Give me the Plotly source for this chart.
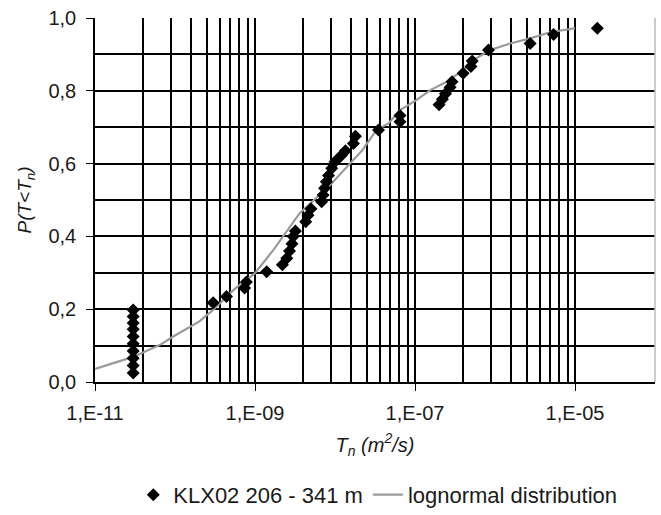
import plotly.graph_objects as go

# Measured transmissivity values T (m2/s) and plotting positions P(T<Tn)
data_T = [3.0e-11] * 10 + [
    3.0e-10, 4.4e-10, 7.4e-10, 7.8e-10, 1.4e-9, 2.2e-9, 2.5e-9, 2.7e-9, 2.9e-9,
    3.0e-9, 3.2e-9, 4.3e-9, 4.6e-9, 5.0e-9, 6.8e-9, 7.1e-9, 7.4e-9, 7.8e-9,
    8.3e-9, 9.1e-9, 1.0e-8, 1.2e-8, 1.35e-8, 1.7e-8, 1.8e-8, 3.5e-8, 6.5e-8,
    6.5e-8, 2.0e-7, 2.2e-7, 2.4e-7, 2.75e-7, 2.9e-7, 4.0e-7, 5.0e-7, 5.2e-7,
    8.3e-7, 2.75e-6, 5.4e-6, 1.9e-5,
]
data_P = [0.025, 0.045, 0.065, 0.085, 0.105, 0.125, 0.145, 0.162, 0.180, 0.198,
          0.218, 0.235, 0.258, 0.275, 0.303, 0.322, 0.340, 0.360, 0.380,
          0.400, 0.415, 0.440, 0.458, 0.476, 0.495, 0.514, 0.532, 0.550,
          0.567, 0.587, 0.605, 0.622, 0.635, 0.655, 0.675, 0.692, 0.715,
          0.732, 0.762, 0.777, 0.792, 0.810, 0.825, 0.848, 0.867, 0.882,
          0.912, 0.930, 0.955, 0.972]

# Fitted lognormal distribution curve
fit_T = [1.0e-11, 3.0e-11, 6.5e-11, 9.5e-11, 2.0e-10, 3.0e-10, 5.4e-10, 1.0e-9,
         1.7e-9, 3.6e-9, 8.7e-9, 1.55e-8, 2.2e-8, 3.3e-8, 4.7e-8, 6.5e-8,
         1.05e-7, 1.55e-7, 2.5e-7, 4.0e-7, 5.4e-7, 8.7e-7, 1.55e-6, 2.75e-6,
         4.9e-6, 1.0e-5]
fit_P = [0.036, 0.069, 0.102, 0.125, 0.166, 0.198, 0.253, 0.299, 0.363, 0.463,
         0.541, 0.601, 0.637, 0.692, 0.711, 0.747, 0.775, 0.802, 0.825, 0.857,
         0.885, 0.912, 0.930, 0.944, 0.961, 0.972]

x_tick_vals = [1e-11, 1e-9, 1e-7, 1e-5]
x_tick_text = ["1,E-11", "1,E-09", "1,E-07", "1,E-05"]
x_minor_vals = [k * k * base for base in (1e-11, 1e-9, 1e-7) for k in range(2, 10)]
y_tick_vals = [0.0, 0.2, 0.4, 0.6, 0.8, 1.0]
y_tick_text = ["0,0", "0,2", "0,4", "0,6", "0,8", "1,0"]

FONT = "Arial, Liberation Sans, sans-serif"
TXT = "#1a1a1a"
GRID = "#000000"
GW = 1.6

fig = go.Figure()
fig.add_trace(go.Scatter(
    x=fit_T, y=fit_P, mode="lines", name="lognormal distribution",
    line=dict(color="#9a9a9a", width=2.2),
))
fig.add_trace(go.Scatter(
    x=data_T, y=data_P, mode="markers", name="KLX02 206 - 341 m",
    marker=dict(symbol="diamond", size=10, color="#000000"),
))

fig.update_layout(
    width=661, height=515,
    margin=dict(l=95, r=6, t=18, b=133, autoexpand=False),
    paper_bgcolor="white", plot_bgcolor="white",
    font=dict(family=FONT, size=20, color=TXT),
    showlegend=True,
    legend=dict(orientation="h", x=0.505, xanchor="center", y=-0.31, yanchor="middle",
                traceorder="reversed", font=dict(size=22, color=TXT),
                itemwidth=30, bgcolor="rgba(0,0,0,0)"),
    xaxis=dict(
        type="log", range=[-11, -4],
        tickmode="array", tickvals=x_tick_vals, ticktext=x_tick_text,
        ticks="outside", ticklen=7, tickcolor="#000", tickwidth=1.3,
        showgrid=True, gridcolor=GRID, gridwidth=GW,
        showline=True, linecolor="#000", linewidth=1.6,
        zeroline=False, ticklabelstandoff=5,
        minor=dict(tickmode="array", tickvals=x_minor_vals, ticks="",
                   showgrid=True, gridcolor=GRID, gridwidth=GW),
        title=dict(text="<i>T<sub>n</sub> (m<sup>2</sup>/s)</i>", font=dict(size=20, color=TXT),
                   standoff=15),
    ),
    yaxis=dict(
        range=[0, 1], tickmode="array", tickvals=y_tick_vals, ticktext=y_tick_text,
        ticks="outside", ticklen=7, tickcolor="#000", tickwidth=1.3,
        showgrid=True, gridcolor=GRID, gridwidth=GW,
        showline=True, linecolor="#000", linewidth=1.6,
        zeroline=False, ticklabelstandoff=6,
        minor=dict(dtick=0.1, ticks="", showgrid=True, gridcolor=GRID, gridwidth=GW),
        title=dict(text="<i>P(T&lt;T<sub>n</sub>)</i>", font=dict(size=19, color=TXT),
                   standoff=12),
    ),
)

fig.add_shape(type="line", xref="paper", yref="paper", x0=1, x1=1, y0=0, y1=1,
              line=dict(color="#bdbdbd", width=1.5))

fig.write_html("out.html")
